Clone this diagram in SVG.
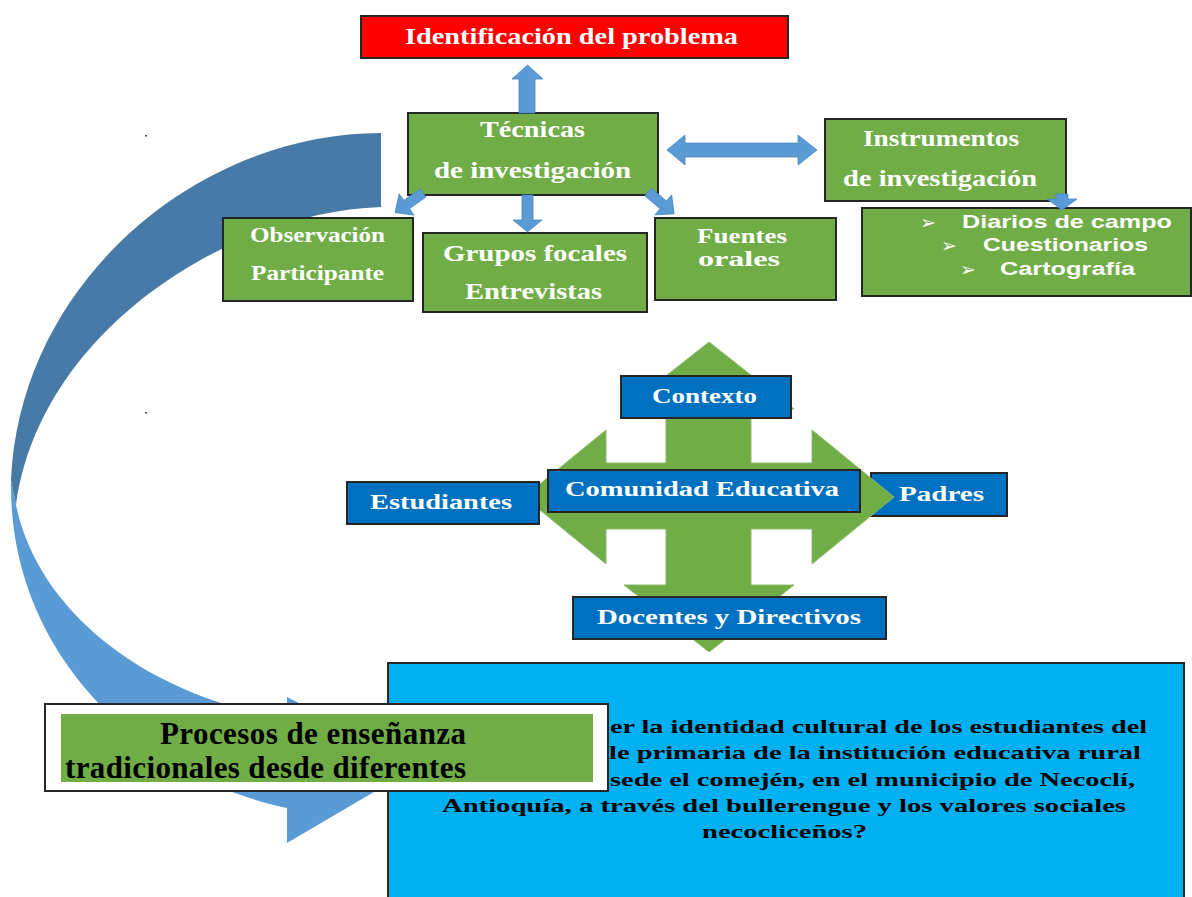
<svg xmlns="http://www.w3.org/2000/svg" width="1192" height="897" viewBox="0 0 1192 897">
<defs>
<style>
.g{fill:#70AD47;stroke:#262626;stroke-width:2}
.b{fill:#0070C0;stroke:#262626;stroke-width:2}
.w{fill:#fff;font-family:"Liberation Serif",serif;font-weight:bold;font-size:23px}
.w2{fill:#fff;font-family:"Liberation Serif",serif;font-weight:bold;font-size:22px}
.k{fill:#000;font-family:"Liberation Serif",serif;font-weight:bold;font-size:19px}
.L{fill:#000;font-family:"Liberation Serif",serif;font-weight:bold;font-size:31px}
.s{fill:#fff;font-family:"Liberation Sans",Arial,sans-serif;font-weight:bold;font-size:19px}
.bul{fill:#fff;font-family:"DejaVu Sans",sans-serif;font-size:19px}
.ar{fill:#5B9BD5;stroke:#4A86BF;stroke-width:0.8}
</style>
</defs>
<rect width="1192" height="897" fill="#fff"/>

<g id="curved-arrow">
<path d="M11,480 C8,660 150,780 287,808 L287,843 L420,765 L287,697 L287,718 C160,700 40,620 16,505 Z" fill="#5B9BD5"/>
<path d="M381,133 C200,133 20,280 11,480 L16,505 C40,330 230,212 381,207 Z" fill="#477AA7"/>
</g>

<rect x="145" y="135" width="2" height="1.5" fill="#444"/>
<rect x="145" y="412" width="2" height="1.5" fill="#444"/>

<g id="n-identificacion">
<rect x="361" y="16" width="427" height="42" fill="#FF0000" stroke="#262626" stroke-width="2"/>
<text class="w" x="405" y="44" textLength="333" lengthAdjust="spacingAndGlyphs">Identificación del problema</text>
</g>

<g id="n-tecnicas">
<rect class="g" x="408" y="113" width="250" height="82"/>
<text class="w" x="480" y="137" textLength="105" lengthAdjust="spacingAndGlyphs">Técnicas</text>
<text class="w" x="434" y="178" textLength="197" lengthAdjust="spacingAndGlyphs">de investigación</text>
</g>

<g id="n-observacion">
<rect class="g" x="223" y="218" width="190" height="83"/>
<text class="w2" x="250" y="242" textLength="135" lengthAdjust="spacingAndGlyphs">Observación</text>
<text class="w2" x="251" y="280" textLength="133" lengthAdjust="spacingAndGlyphs">Participante</text>
</g>

<g id="n-grupos">
<rect class="g" x="423" y="233" width="224" height="79"/>
<text class="w" x="443" y="261" textLength="184" lengthAdjust="spacingAndGlyphs">Grupos focales</text>
<text class="w" x="465" y="299" textLength="137" lengthAdjust="spacingAndGlyphs">Entrevistas</text>
</g>

<g id="n-fuentes">
<rect class="g" x="655" y="218" width="181" height="82"/>
<text class="w2" x="697" y="243" textLength="90" lengthAdjust="spacingAndGlyphs">Fuentes</text>
<text class="w2" x="698" y="266" textLength="82" lengthAdjust="spacingAndGlyphs">orales</text>
</g>

<g id="n-instrumentos">
<rect class="g" x="825" y="119" width="241" height="82"/>
<text class="w" x="863" y="146" textLength="156" lengthAdjust="spacingAndGlyphs">Instrumentos</text>
<text class="w" x="843" y="186" textLength="194" lengthAdjust="spacingAndGlyphs">de investigación</text>
</g>

<g id="n-lista">
<rect class="g" x="862" y="208" width="329" height="88"/>
<text class="bul" x="920" y="229">➢</text>
<text class="s" x="962" y="228" textLength="210" lengthAdjust="spacingAndGlyphs">Diarios de campo</text>
<text class="bul" x="941" y="252">➢</text>
<text class="s" x="983" y="251" textLength="165" lengthAdjust="spacingAndGlyphs">Cuestionarios</text>
<text class="bul" x="960" y="276">➢</text>
<text class="s" x="1000" y="275" textLength="135" lengthAdjust="spacingAndGlyphs">Cartografía</text>
</g>

<g id="n-padres">
<rect class="b" x="871" y="473" width="136" height="43"/>
<text class="w2" x="899" y="501" textLength="85" lengthAdjust="spacingAndGlyphs">Padres</text>
</g>

<g id="cross">
<polygon points="709,342 794,409 751,409 751,463 812,463 812,430 894,497 812,564 812,529 751,529 751,585 794,585 709,652 624,585 666,585 666,529 606,529 606,564 524,497 606,430 606,463 666,463 666,409 624,409" fill="#70AD47" stroke="#8DBB6E" stroke-width="1"/>
</g>

<g id="n-contexto">
<rect class="b" x="621" y="376" width="170" height="42"/>
<text class="w2" x="652" y="403" textLength="105" lengthAdjust="spacingAndGlyphs">Contexto</text>
</g>

<g id="n-estudiantes">
<rect class="b" x="347" y="482" width="192" height="42"/>
<text class="w2" x="370" y="509" textLength="142" lengthAdjust="spacingAndGlyphs">Estudiantes</text>
</g>

<g id="n-comunidad">
<rect class="b" x="548" y="470" width="312" height="42"/>
<text class="w2" x="565" y="496" textLength="274" lengthAdjust="spacingAndGlyphs">Comunidad Educativa</text>
</g>

<g id="n-docentes">
<rect class="b" x="573" y="597" width="313" height="42"/>
<text class="w2" x="597" y="624" textLength="264" lengthAdjust="spacingAndGlyphs">Docentes y Directivos</text>
</g>

<g id="n-pregunta">
<rect x="388" y="663" width="796" height="240" fill="#00B0F0" stroke="#262626" stroke-width="2"/>
<text class="k" x="610" y="733" textLength="537" lengthAdjust="spacingAndGlyphs">er la identidad cultural de los estudiantes del</text>
<text class="k" x="609" y="759" textLength="532" lengthAdjust="spacingAndGlyphs">le primaria de la institución educativa rural</text>
<text class="k" x="610" y="786" textLength="525" lengthAdjust="spacingAndGlyphs">sede el comején, en el municipio de Necoclí,</text>
<text class="k" x="442" y="812" textLength="684" lengthAdjust="spacingAndGlyphs">Antioquía, a través del bullerengue y los valores sociales</text>
<text class="k" x="702" y="838" textLength="165" lengthAdjust="spacingAndGlyphs">necocliceños?</text>
</g>

<g id="n-procesos">
<rect x="45" y="704" width="563" height="87" fill="#fff" stroke="#262626" stroke-width="2"/>
<rect x="61" y="714" width="532" height="68" fill="#70AD47"/>
<text class="L" x="160" y="744" textLength="306">Procesos de enseñanza</text>
<text class="L" x="65" y="778" textLength="401">tradicionales desde diferentes</text>
</g>

<g id="connectors">
<polygon class="ar" points="519,113 519,79 512,79 527.5,65 543,79 535,79 535,113"/>
<polygon class="ar" points="522,195 533,195 533,220 542,220 527.5,232 513,220 522,220"/>
<polygon class="ar" transform="translate(423,193) rotate(55)" points="-5,0 5,0 5,20 13,20 0,34 -13,20 -5,20"/>
<polygon class="ar" transform="translate(648,192) rotate(-50)" points="-5,0 5,0 5,20 13,20 0,34 -13,20 -5,20"/>
<polygon class="ar" points="667,150 685,135 685,143 798,143 798,135 817,150 798,165 798,157 685,157 685,165"/>
<polygon class="ar" points="1056,194 1068,194 1068,199 1077,199 1062,210 1047,199 1056,199"/>
</g>
</svg>
